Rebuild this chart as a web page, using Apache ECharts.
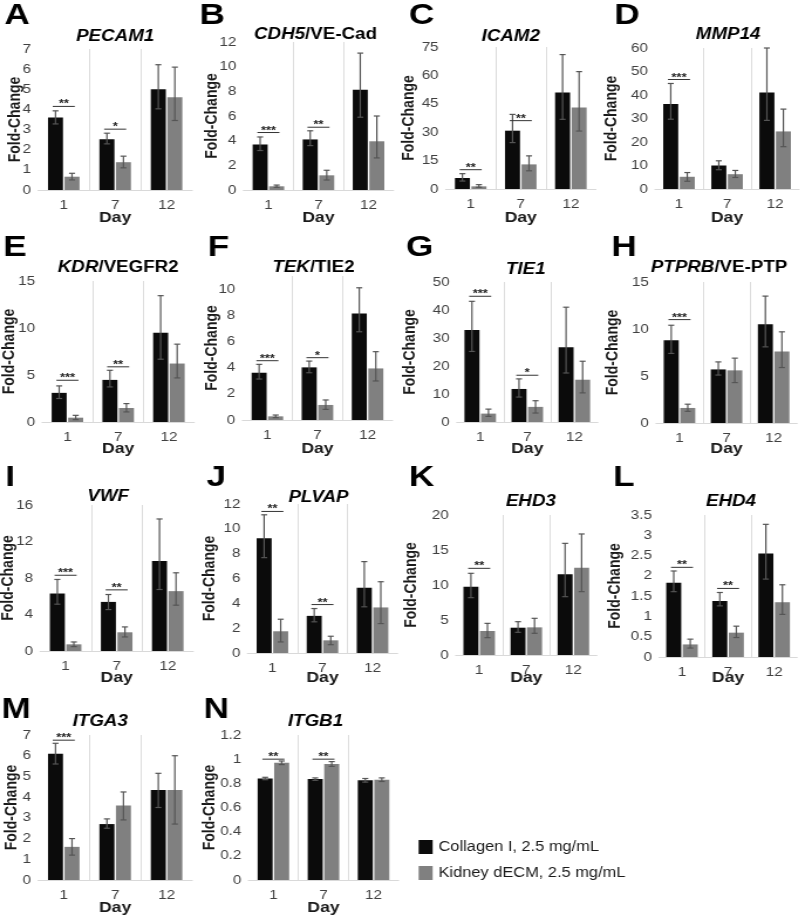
<!DOCTYPE html>
<html><head><meta charset="utf-8">
<script src="https://cdn.jsdelivr.net/npm/echarts@6/dist/echarts.min.js"></script>
<style>
html,body{margin:0;padding:0;background:#fff;overflow:hidden}
#wrap{width:800px;height:919px;overflow:hidden}
#c{height:919px;transform-origin:0 0}
</style>
</head><body><div id="wrap"><div id="c"></div></div>
<script>
// ---------------- data ----------------
const days = ['1', '7', '12'];
const panelLetters = ['A','B','C','D','E','F','G','H','I','J','K','L','M','N'];
const geneItalic = ['PECAM1','CDH5','ICAM2','MMP14','KDR','TEK','TIE1','PTPRB','VWF','PLVAP','EHD3','EHD4','ITGA3','ITGB1'];
const geneSuffix = ['','/VE-Cad','','','/VEGFR2','/TIE2','','/VE-PTP','','','','','',''];
const seriesNames = ['Collagen I, 2.5 mg/mL', 'Kidney dECM, 2.5 mg/mL'];
const yMax  = [7, 12, 75, 60, 15, 11, 50, 15, 16, 12, 20, 3.5, 7, 1.2];
const yStep = [1, 2, 15, 10, 5, 2, 10, 5, 4, 2, 5, 0.5, 1, 0.2];

const collagenMean = [
  [3.6, 2.52, 5.0], [3.69, 4.1, 8.13], [5.8, 30.8, 51], [36.2, 10, 41.1],
  [3.1, 4.48, 9.49], [3.61, 4.02, 8.14], [32.9, 11.8, 26.7], [8.8, 5.7, 10.5],
  [6.3, 5.38, 9.85], [9.24, 2.99, 5.26], [9.76, 3.9, 11.52], [1.83, 1.38, 2.55],
  [6.1, 2.7, 4.35], [0.84, 0.835, 0.825]
];
const collagenLow = [
  [3.28, 2.29, 4.03], [3.2, 3.6, 5.9], [4.2, 24.5, 36.8], [29.7, 8.2, 29.2],
  [2.5, 3.73, 6.68], [3.13, 3.61, 6.74], [25.2, 8.9, 17.5], [7.4, 5.1, 8.1],
  [5.13, 4.54, 6.74], [7.68, 2.51, 3.72], [8.19, 3.24, 8.33], [1.61, 1.26, 1.92],
  [5.6, 2.5, 3.5], [0.83, 0.825, 0.81]
];
const collagenHigh = [
  [3.93, 2.82, 6.22], [4.3, 4.8, 11.1], [8.1, 39.4, 71], [44.9, 12, 60],
  [3.84, 5.5, 13.44], [4.25, 4.5, 10.1], [43.1, 15.4, 41], [10.4, 6.5, 13.5],
  [7.84, 6.19, 14.47], [11.13, 3.58, 7.36], [11.67, 4.76, 15.95], [2.12, 1.59, 3.27],
  [6.6, 2.95, 5.15], [0.85, 0.845, 0.84]
];
const decmMean = [
  [0.66, 1.38, 4.6], [0.3, 1.19, 3.95], [1.4, 13, 43.1], [5.2, 6.3, 24.5],
  [0.46, 1.49, 6.22], [0.28, 1.15, 3.94], [3.0, 5.4, 15.1], [1.6, 5.6, 7.6],
  [0.73, 2.05, 6.56], [1.75, 1.02, 3.67], [3.43, 3.95, 12.48], [0.31, 0.6, 1.35],
  [1.6, 3.6, 4.35], [0.97, 0.96, 0.83]
];
const decmLow = [
  [0.5, 1.1, 3.45], [0.22, 0.81, 2.6], [0.9, 9.6, 30.6], [3.3, 4.9, 18],
  [0.25, 1.07, 4.69], [0.18, 0.81, 2.98], [2.0, 3.2, 10.4], [1.24, 4.3, 5.9],
  [0.48, 1.54, 5.02], [0.89, 0.67, 2.37], [2.48, 3.1, 9.05], [0.22, 0.48, 1.05],
  [1.2, 2.9, 2.7], [0.955, 0.94, 0.815]
];
const decmHigh = [
  [0.83, 1.68, 6.1], [0.4, 1.6, 6.0], [2.3, 17.5, 62], [7, 7.9, 34],
  [0.71, 1.96, 8.28], [0.38, 1.53, 5.22], [4.6, 7.6, 21.7], [2.0, 6.9, 9.7],
  [0.99, 2.64, 8.57], [2.72, 1.35, 5.74], [4.52, 5.24, 17.29], [0.44, 0.76, 1.78],
  [2.0, 4.25, 6.0], [0.985, 0.98, 0.845]
];
// significance brackets: [day index, height, stars]
const sigMarks = [
  [[0, 4.15, '**'], [1, 3.02, '*']],
  [[0, 4.66, '***'], [1, 5.09, '**']],
  [[0, 10.2, '**'], [1, 36.1, '**']],
  [[0, 46.6, '***']],
  [[0, 4.44, '***'], [1, 5.87, '**']],
  [[0, 4.53, '***'], [1, 4.76, '*']],
  [[0, 44.9, '***'], [1, 16.7, '*']],
  [[0, 11.0, '***']],
  [[0, 8.3, '***'], [1, 6.7, '**']],
  [[0, 11.4, '**'], [1, 3.9, '**']],
  [[0, 12.38, '**']],
  [[0, 2.21, '**'], [1, 1.69, '**']],
  [[0, 6.75, '***']],
  [[0, 1.0, '**'], [1, 1.0, '**']]
];

// ---------------- layout (reference pixels) ----------------
const SX = 1.17;                 // horizontal stretch of the reference figure
const X = v => v / SX;
const W = 800 / SX;
const FONT = '"Liberation Sans", Arial, Helvetica, sans-serif';
const boxes = [
  [38, 49, 154, 141], [243, 42, 150, 148], [445, 47, 150, 142], [654, 48, 144, 141],
  [42, 281, 152, 141], [242, 276, 150, 144], [456, 282, 141, 140], [655, 282, 141, 141],
  [40, 505, 153, 146], [247, 504, 150, 149], [455, 515, 141, 140], [658, 515, 138, 142],
  [38, 735, 154, 145], [248, 735, 150, 145]
];
const letterPos = [[17,16],[212,16],[421,16],[626,16],[15,248],[218,248],[419,248],[623,248],
  [10,478],[216,478],[421,478],[623,478],[16,710],[216,710]];
const titlePos = [[115,37],[315,35],[510,37],[727,35],[118,268],[313,268],[525,270],[718,268],
  [108,497],[318,498],[530,502],[730,502],[100,722],[315,722]];
const foldX = [15,212,409,611,10,212,410,612,8,210,411,614,12,210];
const dayY = [218,218,218,218,449,449,449,449,678,678,678,678,908,908];

const BW = 15, BGAP = 1.5;
const OFF = (BW + BGAP) / 2;

document.getElementById('c').style.width = W + 'px';
document.getElementById('c').style.transform = 'scaleX(' + SX + ')';
const chart = echarts.init(document.getElementById('c'), null, {renderer: 'canvas', width: W, height: 919});

function errRender(offset) {
  return function (params, api) {
    const cat = api.value(0);
    const x = api.coord([cat, 0])[0] + X(offset);
    const yLo = api.coord([cat, api.value(1)])[1];
    const yHi = api.coord([cat, api.value(2)])[1];
    const cap = X(3);
    const style = {stroke: '#555555', lineWidth: 1.2};
    return {type: 'group', children: [
      {type: 'line', shape: {x1: x, y1: yLo, x2: x, y2: yHi}, style: style},
      {type: 'line', shape: {x1: x - cap, y1: yHi, x2: x + cap, y2: yHi}, style: style},
      {type: 'line', shape: {x1: x - cap, y1: yLo, x2: x + cap, y2: yLo}, style: style}
    ]};
  };
}
function sigRender(panel) {
  return function (params, api) {
    const c = api.coord([api.value(0), api.value(1)]);
    const label = sigMarks[panel][params.dataIndex][2];
    return {type: 'group', children: [
      {type: 'line', shape: {x1: c[0] - X(11), y1: c[1], x2: c[0] + X(11), y2: c[1]},
        style: {stroke: '#333333', lineWidth: 1}},
      {type: 'text', x: c[0], y: c[1] - 2,
        style: {text: label, textAlign: 'center', textVerticalAlign: 'middle',
          font: 'bold 11px ' + FONT, fill: '#222222'}}
    ]};
  };
}

const series = [];
const graphics = [];
boxes.forEach(function (b, i) {
  series.push({type: 'bar', name: seriesNames[0], xAxisIndex: i, yAxisIndex: i,
    data: collagenMean[i], barWidth: X(BW), barGap: (BGAP / BW * 100) + '%',
    itemStyle: {color: '#0b0b0b'}, silent: true});
  series.push({type: 'bar', name: seriesNames[1], xAxisIndex: i, yAxisIndex: i,
    data: decmMean[i], barWidth: X(BW), barGap: (BGAP / BW * 100) + '%',
    itemStyle: {color: '#808080'}, silent: true});
  series.push({type: 'custom', xAxisIndex: i, yAxisIndex: i, silent: true, z: 5,
    data: collagenLow[i].map(function (lo, j) { return [j, lo, collagenHigh[i][j]]; }),
    renderItem: errRender(-OFF)});
  series.push({type: 'custom', xAxisIndex: i, yAxisIndex: i, silent: true, z: 5,
    data: decmLow[i].map(function (lo, j) { return [j, lo, decmHigh[i][j]]; }),
    renderItem: errRender(OFF)});
  series.push({type: 'custom', xAxisIndex: i, yAxisIndex: i, silent: true, z: 6,
    data: sigMarks[i].map(function (s) { return [s[0], s[1]]; }),
    renderItem: sigRender(i)});

  // panel letter
  graphics.push({type: 'text', x: X(letterPos[i][0]), y: letterPos[i][1],
    style: {text: panelLetters[i], textAlign: 'center', textVerticalAlign: 'middle',
      font: 'bold 30px ' + FONT, fill: '#000'}});
  // gene title
  graphics.push({type: 'text', x: X(titlePos[i][0]), y: titlePos[i][1],
    style: {text: '{i|' + geneItalic[i] + '}' + (geneSuffix[i] ? '{n|' + geneSuffix[i] + '}' : ''),
      textAlign: 'center', textVerticalAlign: 'middle',
      rich: {
        i: {fontFamily: FONT, fontStyle: 'italic', fontWeight: 'bold', fontSize: 16, fill: '#000', color: '#000'},
        n: {fontFamily: FONT, fontWeight: 'bold', fontSize: 16, fill: '#000', color: '#000'}
      }}});
  // y name
  graphics.push({type: 'text', x: X(foldX[i]), y: b[1] + b[3] / 2, rotation: Math.PI / 2,
    style: {text: 'Fold-Change', textAlign: 'center', textVerticalAlign: 'middle',
      font: 'bold 14px ' + FONT, fill: '#1a1a1a'}});
  // x name
  graphics.push({type: 'text', x: X(b[0] + b[2] / 2), y: dayY[i],
    style: {text: 'Day', textAlign: 'center', textVerticalAlign: 'middle',
      font: 'bold 15px ' + FONT, fill: '#1a1a1a'}});
});

function isMultiple(a, s) { const r = a / s; return Math.abs(r - Math.round(r)) < 1e-6; }

const option = {
  animation: false,
  textStyle: {fontFamily: FONT},
  grid: boxes.map(function (b) { return {left: X(b[0]), top: b[1], width: X(b[2]), height: b[3], containLabel: false}; }),
  xAxis: boxes.map(function (b, i) {
    return {type: 'category', gridIndex: i, data: days, boundaryGap: true,
      axisLine: {show: true, lineStyle: {color: '#d9d9d9', width: 1}},
      axisTick: {show: false},
      axisLabel: {fontSize: 13, color: '#404040', margin: 9, interval: 0, fontFamily: FONT},
      splitLine: {show: true, showMinLine: false, showMaxLine: false, lineStyle: {color: '#dcdcdc', width: 1}}};
  }),
  yAxis: boxes.map(function (b, i) {
    return {type: 'value', gridIndex: i, min: 0, max: yMax[i], interval: yStep[i],
      axisLine: {show: false}, axisTick: {show: false}, splitLine: {show: false},
      axisLabel: {fontSize: 13, color: '#404040', margin: 6, fontFamily: FONT,
        showMaxLabel: isMultiple(yMax[i], yStep[i])}};
  }),
  legend: {orient: 'vertical', left: X(418), top: 840, padding: 0, itemWidth: X(14), itemHeight: 14, itemGap: 12,
    icon: 'rect', data: seriesNames, selectedMode: false,
    textStyle: {fontSize: 14, color: '#1a1a1a', fontFamily: FONT}},
  series: series,
  graphic: graphics
};
chart.setOption(option);
</script>
</body></html>
